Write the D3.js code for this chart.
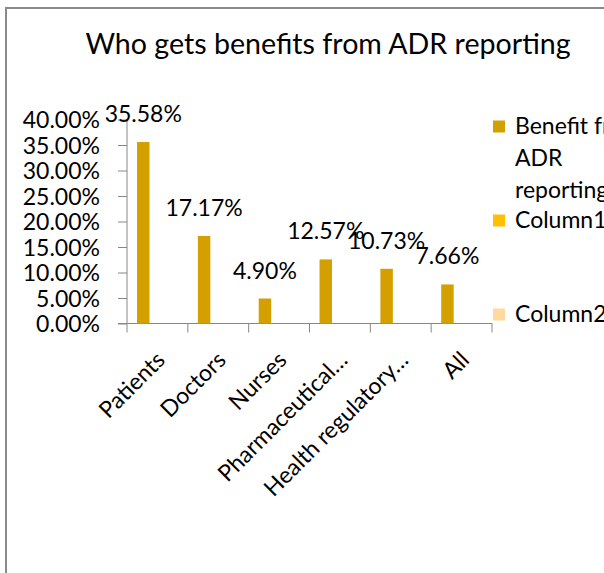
<!DOCTYPE html>
<html>
<head>
<meta charset="utf-8">
<script src="https://cdn.jsdelivr.net/npm/d3@7"></script>
<style>
  html, body { margin: 0; padding: 0; background: #fff; }
  svg { display: block; font-family: Lato, "Open Sans", sans-serif; }
</style>
</head>
<body>
<svg id="chart" width="604" height="573"></svg>
<script>
// Chart data
const title = "Who gets benefits from ADR reporting";
const categories = ["Patients", "Doctors", "Nurses", "Pharmaceutical…", "Health regulatory…", "All"];
const benefitValues = [0.3558, 0.1717, 0.0490, 0.1257, 0.1073, 0.0766];
const seriesNames = ["Benefit from ADR reporting", "Column1", "Column2"];
const legendLines = [["Benefit from", "ADR", "reporting"], ["Column1"], ["Column2"]];
const seriesColors = ["#D4A000", "#FFC000", "#FFD99E"];
const yTicks = [0, 0.05, 0.10, 0.15, 0.20, 0.25, 0.30, 0.35, 0.40];

const svg = d3.select("#chart");
const axisColor = "#878787";
const fmt = d3.format(".2%");
const fontSize = 23;

// frame around the chart area
svg.append("path")
  .attr("d", "M6,573 V8 H604")
  .attr("fill", "none")
  .attr("stroke", "#8a8a8a")
  .attr("stroke-width", 2);

// title
svg.append("text")
  .attr("x", 328).attr("y", 54)
  .attr("text-anchor", "middle")
  .attr("font-size", 28.6)
  .attr("fill", "#000")
  .text(title);

// scales
const x0 = d3.scaleBand().domain(categories).range([127, 492]).padding(0);
const x1 = d3.scaleBand().domain(seriesNames)
  .range([x0.bandwidth() * 0.165, x0.bandwidth() * 0.165 + 3 * x0.bandwidth() * 0.205]);
const y = d3.scaleLinear().domain([0, 0.40]).range([323.5, 119.5]);

// y axis
const yAxis = d3.axisLeft(y).tickValues(yTicks).tickFormat(fmt).tickSize(9).tickPadding(18);
const gy = svg.append("g").attr("transform", "translate(127,0)").call(yAxis);
gy.select(".domain").attr("stroke", axisColor).attr("d", `M0,${y(0.40)}V${y(0)}`);
gy.selectAll(".tick line").attr("stroke", axisColor);
gy.selectAll(".tick text").attr("font-size", fontSize).attr("fill", "#000")
  .attr("font-family", "Lato, sans-serif").attr("dy", "0.36em");

// x axis: boundary ticks between categories
const gx = svg.append("g");
gx.append("line")
  .attr("x1", 118).attr("x2", x0.range()[1])
  .attr("y1", y(0)).attr("y2", y(0))
  .attr("stroke", axisColor);
const bounds = categories.map(c => x0(c)).concat([x0.range()[1]]);
gx.selectAll("line.b").data(bounds).join("line")
  .attr("class", "b")
  .attr("x1", d => d).attr("x2", d => d)
  .attr("y1", y(0)).attr("y2", y(0) + 9)
  .attr("stroke", axisColor);

// category labels, rotated
gx.selectAll("text.cat").data(categories).join("text")
  .attr("class", "cat")
  .attr("text-anchor", "end")
  .attr("font-size", fontSize)
  .attr("fill", "#000")
  .attr("transform", d => `translate(${x0(d) + x0.bandwidth() / 2 + 9},${y(0) + 38}) rotate(-45)`)
  .text(d => d);

// bars
const bw = x1.bandwidth();
svg.append("g").selectAll("rect").data(benefitValues).join("rect")
  .attr("x", (d, i) => x0(categories[i]) + x1(seriesNames[0]))
  .attr("y", d => y(d))
  .attr("width", bw)
  .attr("height", d => y(0) - y(d))
  .attr("fill", seriesColors[0]);

// value labels above bars
svg.append("g").selectAll("text").data(benefitValues).join("text")
  .attr("x", (d, i) => x0(categories[i]) + x1(seriesNames[0]) + bw / 2)
  .attr("y", d => y(d) - 20)
  .attr("text-anchor", "middle")
  .attr("font-size", fontSize)
  .attr("fill", "#000")
  .text(d => fmt(d));

// legend
const legendY = [126.5, 220.5, 314.5];
const leg = svg.append("g");
seriesNames.forEach((s, i) => {
  leg.append("rect")
    .attr("x", 493).attr("y", legendY[i] - 6)
    .attr("width", 12).attr("height", 12)
    .attr("fill", seriesColors[i]);
  const t = leg.append("text")
    .attr("x", 515).attr("y", legendY[i] + 7.5)
    .attr("font-size", fontSize)
    .attr("fill", "#000");
  legendLines[i].forEach((line, j) => {
    t.append("tspan").attr("x", 515).attr("dy", j === 0 ? 0 : 32).text(line);
  });
});
</script>
</body>
</html>
